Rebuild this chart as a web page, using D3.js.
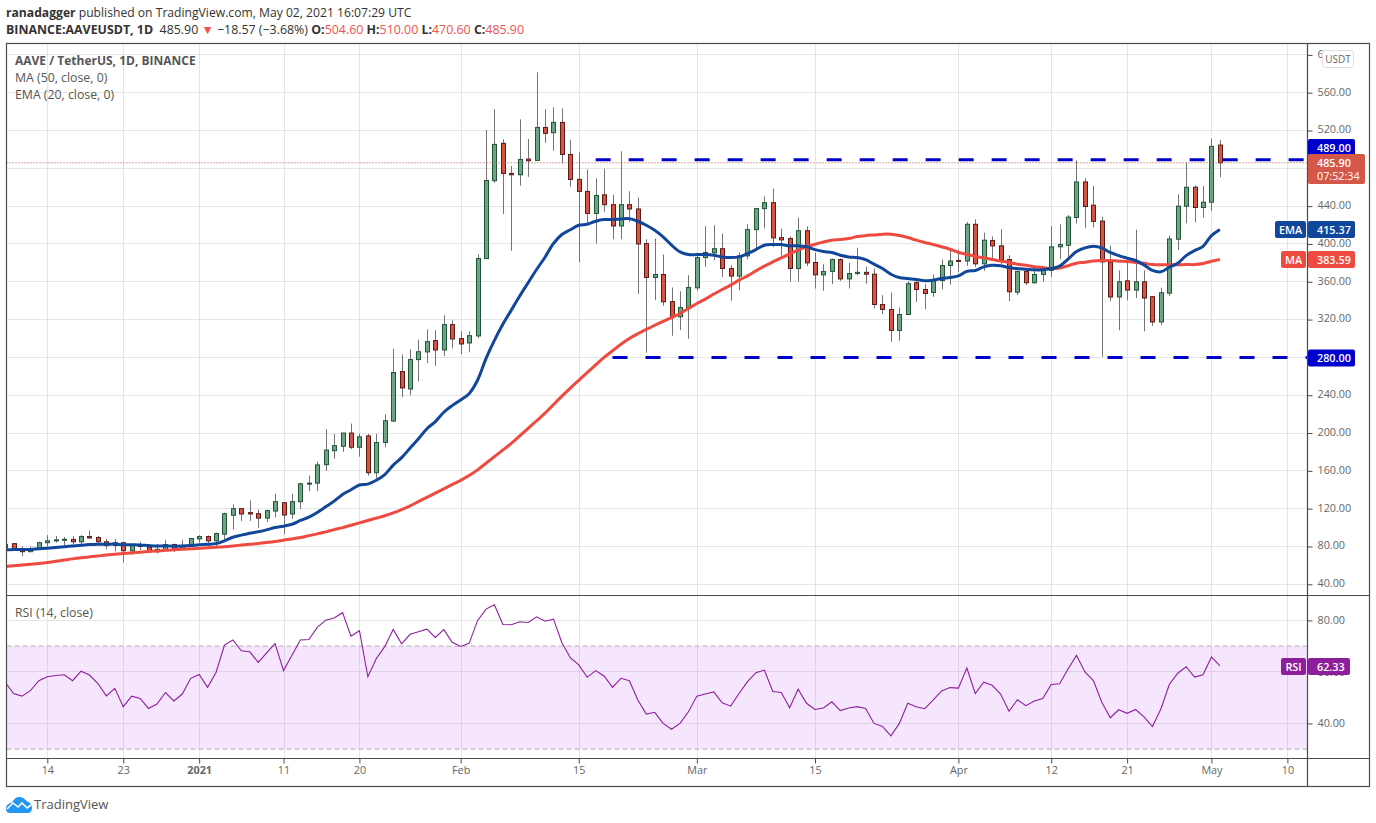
<!DOCTYPE html>
<html>
<head>
<meta charset="utf-8">
<title>AAVE / TetherUS</title>
<script src="https://cdn.jsdelivr.net/npm/d3@7"></script>
<style>
  html, body { margin: 0; background: #fff; }
  svg { display: block; font-family: "Open Sans", sans-serif; }
</style>
</head>
<body>
<div class="canvas"></div>
<script>
// one value per day, first day is Dec 9 2020, last is May 2 2021
const firstDay = '2020-12-09';

const opens = [
  79,83,77,74.5,78,84,86,87,87.5,85,90.5,89.5,85,81,84,75.5,81.5,79.5,74.5,76.5,82,77.5,80.7,
  88,90.5,86,93,113,120,115.8,114.7,110,117.5,126.3,114.4,127.4,146,147,166.5,181.3,186,200,185,197,158,190,212.7,265,246.6,277.7,285.8,297.8,287.9,314.7,
  299.9,295.3,302.7,384.6,466.9,506.4,474.6,473.2,489.8,488.4,523.3,517.7,528.6,494.7,468.3,455.6,432.3,452,441.6,419,441.6,437,400.4,364.5,367.7,339,323,332.5,
  353.6,385.6,390.6,395,374,366,387.4,415.2,437.4,443.7,406.7,405.7,374,414,380.4,367.3,371,383.5,363,368.7,370,368,336,330.7,308.5,325.4,359,351.8,348.7,361.3,377.2,
  382.6,382,420.8,379,403.6,398,383.5,349,371,359,367.7,372,397,398.6,428,465.6,441,424.2,381,343.9,361,351.2,360,344.2,317.5,348,405,440,460,438.6,
  444.2,504.6
];
const highs = [
  84,83.5,80,80,85,92,91,90,91,92,97,91,88,88,85,82.5,85,80,82.5,86.7,83,86.7,88.7,
  92,91.6,94.7,115.8,124.6,120,128.8,119,119,135.8,127,135.8,147.4,155,169.8,204,199,200,210,199.3,199,199,219.8,289,283,288.6,298.8,309.8,308.7,324.6,319.3,
  307.7,307.7,389,520.5,542.4,510.6,482.4,531.8,511,581.6,542.4,544.5,543.4,509.9,496.9,478.9,469.3,479.6,452,498,455.7,449,405,405.7,388.8,354,350,367,
  389.9,418.7,419.8,411,377.5,391,420.8,437.4,450.4,458.5,416.3,408,427.9,418.7,390.6,378.6,384.6,384.6,380,396,376,374,345.8,348.7,332.8,360.6,363.4,357.5,367.7,383.5,395,
  394,423.3,426,412,408,415.6,388,372,372,375.8,375,418.7,420.8,430.5,488.4,469.5,461.4,428.8,398.2,372,386,415,372,345,353.7,408.8,452.6,486,462,461.4,
  511.6,510
];
const lows = [
  78,76,70,74,77,80,84,80,82,81,88,84,77,75,63,71,76,73,72.6,76,74,77,79.6,
  84,81,80,87.7,98,107,107,99.6,106,111,93,109,119.6,138.6,138.6,160,173,180,183,175,155,152,185,211.6,238,240,254.7,274,271,281.5,289.7,
  283.3,285.4,300.6,384.6,464.7,431.6,392.7,461.6,471,488.4,507,498.6,485.2,460.5,380.4,421.7,400.5,433.9,405,405,423.3,347,285,340.6,334.6,302.9,308.9,299.7,
  350.4,375.8,382.8,365,339.9,351,383.9,395,416.6,396.9,387.4,360,360,376.5,352.9,350.4,357.5,361,352.9,367,358,331.8,325.8,296.5,297.6,325.4,338.5,331,344,352,357,
  370,376.8,375.8,371.5,384.6,378.6,339.5,346,356.5,358,360,365,383.9,386,421.8,417,417.5,280.7,339.3,308.8,340.4,342.8,307.7,313.3,314,345,393.7,421.8,422.8,428,
  435,470.6
];
const closes = [
  82,77,74.5,77.5,84,86,87,87.6,85,90.5,89,85,81,84,75.5,81,80,74.5,77,82,77.5,80.5,88.4,
  90.5,86,93.7,114.7,120,114.4,114.4,110,118,127.4,113.3,127.4,146.3,147,166.3,182,186.6,200,185,196,158,190,213,264,247.7,277.7,286,296.7,287.9,314.7,299.5,
  294.2,303,384.6,467.2,505.3,474.6,473.2,489.4,488,523.3,517,528.6,494.7,468.3,455.6,432.3,451.3,441.6,419,441.6,437,400,364.5,367.7,338.8,323,332.8,354,
  385.6,391,395,374,366,387.4,415.2,437.4,443.7,406.4,404.3,374,414,380,367.3,370.8,383.5,363,368.7,370,368,336,330.7,308.5,325.4,358,351.8,347.6,361.3,377.2,382,
  381.8,420.8,379,404,398,383,349.4,371,359,367.7,372,397,399.4,428.4,465.6,439.6,423.9,381,343.9,360,351.2,360,342.8,317.5,348.4,405.3,440,460,438.6,444.2,
  503.2,485.9
];
const ema20 = [
  76.5,76.7,76.8,76.8,77.5,78.2,79,79.8,80.5,81.3,82,82.4,82.4,82.5,81.9,81.8,81.7,81,80.5,80.6,80.3,80.4,81,
  81.9,82.3,83,86,89.8,92,94,95.5,97.6,100,101.5,103.5,107.5,111,116,122,128,135,140,145,146,150,156,166,174,184,194,204.6,212,222,229,
  235,241.6,255.8,278.7,298,315,330,345,359,373,386,400.5,410,415,419.8,420.8,424,425.8,425.8,426.5,426.8,424,419.8,414.5,407.5,398.7,391.6,388.8,
  388.8,388.8,388,386.3,385.6,386.3,389.9,394,398.7,399.4,399.4,398,398,397,394,392,391,388,386.3,385.6,383.5,378.6,374,368,364.5,363.4,362.4,361,361.7,363.4,364.5,
  366.3,371,372,375.8,377.5,377,375,374,373.3,372.6,372.6,374,376.5,384,392,395.8,397.5,395.8,391,387.7,385,382.5,377.9,372,370.5,375.4,379.6,387.7,393,397.5,
  408.8,415.37
];
const ma50 = [
  58.8,59.6,60.4,61.2,62,63,64.3,65.6,66.9,68,69,70,71,71.8,72.6,73.3,74,74.7,75.3,76,76.5,77,77.5,
  78,78.6,79.2,79.8,80.6,81.5,82.4,83.2,84.2,85.3,86.7,88,89.5,91.5,93.3,95.5,97.8,100,102.5,105,107.5,110,112.5,115.5,119,123,127.5,132,136.5,141,145.5,
  150,155,161,168,175,182,189,197,205,213,221,230,239,247.6,255.8,264,272,280,287,294,300,305,309.6,314,318,322,326.5,331.8,
  337,341.6,347,351.8,356.5,361.7,366.3,371.5,376.5,381,385.3,389.5,393.5,397,399.7,402,404,404.6,405.7,407.8,408.9,409.6,410.3,410.3,409,406.8,404,401.5,399.4,397,394.4,
  391,389,387,385.3,383.5,382,380.4,378.6,377.5,376,375,374,374.5,377,379.6,380.7,382,382.5,382.5,381.8,381.4,380.4,379.6,378.2,377.9,377.9,377.9,378.2,378.2,379.3,
  381.8,383.59
];
const rsi14 = [
  56,51.6,50.6,52.7,56.6,58.1,58.6,58.9,56.6,60.3,58.8,55.5,50.7,53.6,46.5,50.6,49.7,45.8,47.5,52,48.7,51.4,57.5,
  59,54,59.8,70.4,72.4,68.2,67.8,63.7,67.4,71,60.5,66.5,72.4,72.6,77.3,80.1,80.9,83,73.9,76,58.1,65.2,69.8,76.5,70.9,74.6,75.6,76.6,73.4,76.4,71.5,
  69.9,71.1,79.9,84.4,86.1,78.4,78.3,79.5,79.2,81.4,79.7,80.5,71.3,65.5,62.7,57.9,60.5,58.4,54,57.5,56.6,49.1,43.6,44.3,40,37.7,40,44.5,
  50.6,51.4,52.2,48,46.7,51.6,56.2,59.7,60.7,52.4,52,46.1,53.3,47.8,45.4,46,48.4,45,46,46.5,45.8,40,38.8,35.2,40,47.8,46.5,45.7,49,52.6,53.9,
  53.7,61.5,51.6,56,54.8,51.4,44.7,49.2,46.9,48.7,49.7,55.1,55.4,61.1,66.4,60,56.6,48.2,42.2,45.3,43.9,45.4,42.5,38.8,45.6,55.1,59.5,62,58,58.9,
  65.8,62.33
];

const priceTicks = [40,80,120,160,200,240,280,320,360,400,440,480,520,560,600];
const hiddenPriceLabels = [480]; // sits under the last price box
const rsiTicks = [40,60,80];
const rsiBand = [30,70];
const tickDates = ['2020-12-14','2020-12-23','2021-01-01','2021-01-11','2021-01-20','2021-02-01','2021-02-15','2021-03-01','2021-03-15','2021-04-01','2021-04-12','2021-04-21','2021-05-01','2021-05-10'];
const tickLabels = ['14','23','2021','11','20','Feb','15','Mar','15','Apr','12','21','May','10'];

const resistance = {price: 489, from: '2021-02-17'};
const support = {price: 280, from: '2021-02-19'};
const lastPrice = 485.9;

const dims = {width: 1376, height: 823};
const frame = {left: 6.5, top: 43.5, right: 1369.5, bottom: 786.5, plotRight: 1307.5, paneY: 595.5, axisY: 758.5};
const grid = '#e6e6e6', textCol = '#666', frameCol = '#4a4a4a';
const colUp = '#6ba583', colDown = '#d75442', borderUp = '#225437', borderDown = '#5b1a13', wickCol = '#737375';
const blue = '#0000cc', emaCol = '#11479b', maCol = '#ee4a40', rsiCol = '#8e1f9c', lastCol = '#d5574a';

const day = d3.utcParse('%Y-%m-%d');
const days = closes.map((c, i) => d3.utcDay.offset(day(firstDay), i));

const svg = d3.select('.canvas')
    .append('svg')
    .attr('width', dims.width)
    .attr('height', dims.height);

// Dec 14 and May 10 are the two outer ticks I measured
const x = d3.scaleUtc()
    .domain([day('2020-12-14'), day('2021-05-10')])
    .range([47.3, 1287.4]);
const y = d3.scaleLinear().domain([40, 560]).range([584.3, 92.7]);
const yRsi = d3.scaleLinear().domain([40, 80]).range([723.4, 620.4]);

const defs = svg.append('defs');
defs.append('clipPath').attr('id', 'plot').append('rect')
    .attr('x', frame.left).attr('y', frame.top)
    .attr('width', frame.plotRight - frame.left).attr('height', frame.paneY - frame.top);
defs.append('clipPath').attr('id', 'rsiclip').append('rect')
    .attr('x', frame.left).attr('y', frame.paneY)
    .attr('width', frame.plotRight - frame.left).attr('height', frame.axisY - frame.paneY);

// grid
const gridG = svg.append('g').attr('stroke', grid).attr('stroke-width', 1);
gridG.selectAll('.gx').data(tickDates).enter().append('line')
    .attr('x1', d => Math.round(x(day(d))) + .5).attr('x2', d => Math.round(x(day(d))) + .5)
    .attr('y1', frame.top).attr('y2', frame.axisY);
gridG.selectAll('.gy').data(priceTicks).enter().append('line')
    .attr('x1', frame.left).attr('x2', frame.plotRight)
    .attr('y1', d => Math.floor(y(d)) + .5).attr('y2', d => Math.floor(y(d)) + .5);
gridG.selectAll('.gr').data(rsiTicks).enter().append('line')
    .attr('x1', frame.left).attr('x2', frame.plotRight)
    .attr('y1', d => Math.floor(yRsi(d)) + .5).attr('y2', d => Math.floor(yRsi(d)) + .5);

// rsi band
svg.append('rect')
    .attr('x', frame.left).attr('width', frame.plotRight - frame.left)
    .attr('y', yRsi(rsiBand[1])).attr('height', yRsi(rsiBand[0]) - yRsi(rsiBand[1]))
    .attr('fill', '#ac2ff7').attr('fill-opacity', .12);
svg.selectAll('.bandline').data(rsiBand).enter().append('line')
    .attr('x1', frame.left).attr('x2', frame.plotRight)
    .attr('y1', d => yRsi(d)).attr('y2', d => yRsi(d))
    .attr('stroke', '#b5adb8').attr('stroke-width', 1).attr('stroke-dasharray', '5 3');

// candles
const graph = svg.append('g').attr('clip-path', 'url(#plot)');
const candles = graph.selectAll('g.candle').data(closes).enter().append('g')
    .attr('class', 'candle')
    .attr('transform', (d, i) => `translate(${Math.round(x(days[i]))}, 0)`);
candles.append('line')
    .attr('x1', .5).attr('x2', .5)
    .attr('y1', (d, i) => y(highs[i])).attr('y2', (d, i) => y(lows[i]))
    .attr('stroke', wickCol);
candles.append('rect')
    .attr('x', -1.5).attr('width', 4)
    .attr('y', (d, i) => y(Math.max(opens[i], closes[i])))
    .attr('height', (d, i) => Math.max(1, Math.abs(y(opens[i]) - y(closes[i]))))
    .attr('fill', (d, i) => closes[i] >= opens[i] ? colUp : colDown)
    .attr('stroke', (d, i) => closes[i] >= opens[i] ? borderUp : borderDown);

// moving averages
const priceLine = d3.line().x((d, i) => x(days[i])).y(d => y(d)).curve(d3.curveCatmullRom);
graph.append('path').attr('d', priceLine(ma50))
    .attr('fill', 'none').attr('stroke', maCol).attr('stroke-width', 3).attr('stroke-linejoin', 'round');
graph.append('path').attr('d', priceLine(ema20))
    .attr('fill', 'none').attr('stroke', emaCol).attr('stroke-width', 3).attr('stroke-linejoin', 'round');

// drawn levels
[resistance, support].forEach(l => {
    svg.append('line')
        .attr('x1', x(day(l.from))).attr('x2', frame.plotRight)
        .attr('y1', y(l.price)).attr('y2', y(l.price))
        .attr('stroke', blue).attr('stroke-width', 3).attr('stroke-dasharray', '15 18');
});
svg.append('line')
    .attr('x1', frame.left).attr('x2', frame.plotRight)
    .attr('y1', y(lastPrice)).attr('y2', y(lastPrice))
    .attr('stroke', '#b5543f').attr('stroke-width', 1).attr('stroke-dasharray', '1 2');

// rsi line
const rsiLine = d3.line().x((d, i) => x(days[i])).y(d => yRsi(d));
svg.append('path').attr('d', rsiLine(rsi14))
    .attr('fill', 'none').attr('stroke', rsiCol).attr('stroke-width', 1.1)
    .attr('clip-path', 'url(#rsiclip)');

// axes
const styleAxis = g => {
    g.select('.domain').remove();
    g.selectAll('line').attr('stroke', frameCol);
    g.selectAll('text').attr('fill', textCol).style('font-size', '10.8px').style('font-family', '"Open Sans", sans-serif');
};
const priceFormat = d3.format('.2f');
svg.append('g')
    .attr('transform', `translate(${frame.plotRight}, 0)`)
    .call(d3.axisRight(y).tickValues(priceTicks)
        .tickFormat(d => hiddenPriceLabels.includes(d) ? '' : priceFormat(d))
        .tickSize(5).tickPadding(5))
    .call(styleAxis)
    .selectAll('text').attr('dy', '.22em');
svg.append('g')
    .attr('transform', `translate(${frame.plotRight}, 0)`)
    .call(d3.axisRight(yRsi).tickValues(rsiTicks).tickFormat(priceFormat).tickSize(5).tickPadding(5))
    .call(styleAxis);
const xAxis = svg.append('g')
    .attr('transform', `translate(0, ${frame.axisY})`)
    .call(d3.axisBottom(x).tickValues(tickDates.map(day)).tickFormat((d, i) => tickLabels[i]).tickSize(5).tickPadding(3))
    .call(styleAxis);
xAxis.selectAll('text').filter(d => d.getUTCFullYear() === 2021 && d.getUTCMonth() === 0 && d.getUTCDate() === 1)
    .style('font-weight', 700);

// frame
svg.append('rect')
    .attr('x', frame.left).attr('y', frame.top)
    .attr('width', frame.right - frame.left).attr('height', frame.bottom - frame.top)
    .attr('fill', 'none').attr('stroke', frameCol).attr('stroke-width', 1.2);
[[frame.plotRight, frame.top, frame.plotRight, frame.bottom],
 [frame.left, frame.paneY, frame.right, frame.paneY],
 [frame.left, frame.axisY, frame.right, frame.axisY]].forEach(l => {
    svg.append('line').attr('x1', l[0]).attr('y1', l[1]).attr('x2', l[2]).attr('y2', l[3])
        .attr('stroke', frameCol).attr('stroke-width', 1.2);
});

// header
const header1 = svg.append('text').attr('x', 6).attr('y', 17).attr('font-size', 12.15).attr('fill', '#333');
header1.append('tspan').attr('font-weight', 700).text('ranadagger');
header1.append('tspan').text(' published on TradingView.com, May 02, 2021 16:07:29 UTC');
const header2 = svg.append('text').attr('x', 6).attr('y', 34).attr('font-size', 12.4).attr('fill', '#333');
[['BINANCE:AAVEUSDT, 1D', 700], ['  485.90', 400], [' ▼', 400, '#ef5350'], [' −18.57 (−3.68%) ', 400],
 ['O:', 700], ['504.60 ', 400, '#ef5350'], ['H:', 700], ['510.00 ', 400, '#ef5350'],
 ['L:', 700], ['470.60 ', 400, '#ef5350'], ['C:', 700], ['485.90', 400, '#ef5350']].forEach(t => {
    header2.append('tspan').attr('font-weight', t[1]).attr('fill', t[2] || null).attr('xml:space', 'preserve').text(t[0]);
});

// legends
const legend = (txt, ty, weight, size) => svg.append('text')
    .attr('x', 15).attr('y', ty).attr('font-size', size || 12.3).attr('font-weight', weight || 400).attr('fill', '#555').text(txt);
legend('AAVE / TetherUS, 1D, BINANCE', 65, 700, 12);
legend('MA (50, close, 0)', 82);
legend('EMA (20, close, 0)', 99);
legend('RSI (14, close)', 617);

// price labels
const box = (bx, by, w, h, fill) => svg.append('rect')
    .attr('x', bx).attr('y', by).attr('width', w).attr('height', h).attr('rx', 2).attr('fill', fill);
const boxText = (txt, tx, ty, anchor, weight) => svg.append('text')
    .attr('x', tx).attr('y', ty).attr('font-size', 10.8).attr('font-weight', weight || 400)
    .attr('text-anchor', anchor || 'start').attr('fill', '#fff').text(txt);

box(1308, 139, 47, 17, blue);
boxText('489.00', 1317, 152, 'start', 600);
box(1308, y(support.price) - 8, 47, 17, blue);
boxText('280.00', 1317, y(support.price) + 5, 'start', 600);

box(1308, 154, 57, 30, lastCol);
boxText('485.90', 1317, 167, 'start', 600);
boxText('07:52:34', 1317, 180, 'start', 400);

box(1275, 221, 31, 17, emaCol);
boxText('EMA', 1290.5, 234, 'middle', 600);
box(1308, 221, 47, 17, emaCol);
boxText('415.37', 1317, 234, 'start', 600);

box(1281, 251, 25, 17, maCol);
boxText('MA', 1293.5, 264, 'middle', 600);
box(1308, 251, 47, 17, maCol);
boxText('383.59', 1317, 264, 'start', 600);

box(1281, 658, 25, 17, rsiCol);
boxText('RSI', 1293.5, 671, 'middle', 600);
box(1308, 658, 42, 17, rsiCol);
boxText('62.33', 1317, 671, 'start', 600);

// currency badge
svg.append('rect').attr('x', 1322.5).attr('y', 50.5).attr('width', 31).attr('height', 17).attr('rx', 3)
    .attr('fill', '#fff').attr('stroke', '#ddd');
svg.append('text').attr('x', 1338).attr('y', 63).attr('text-anchor', 'middle')
    .attr('font-size', 10).attr('fill', textCol).text('USDT');

// logo
const logo = svg.append('g').attr('transform', 'translate(6, 796)');
logo.append('path')
    .attr('d', 'M0 13 C0 9 3 7 6 6.5 C8 2 12 0 16 1.5 C18 2.5 20 4 21 5.5 C24 6 26 9 26 12 C26 14.5 24.5 17 22 17 L4 17 C1.5 17 0 15.5 0 13 Z')
    .attr('fill', '#2196f3');
logo.append('path')
    .attr('d', 'M1 13 L7 7 L12 11 L16 7 L21 12 L25 9')
    .attr('fill', 'none').attr('stroke', '#fff').attr('stroke-width', 1.6);
svg.append('text').attr('x', 34).attr('y', 809).attr('font-size', 13).attr('fill', '#555').text('TradingView');
</script>
</body>
</html>
